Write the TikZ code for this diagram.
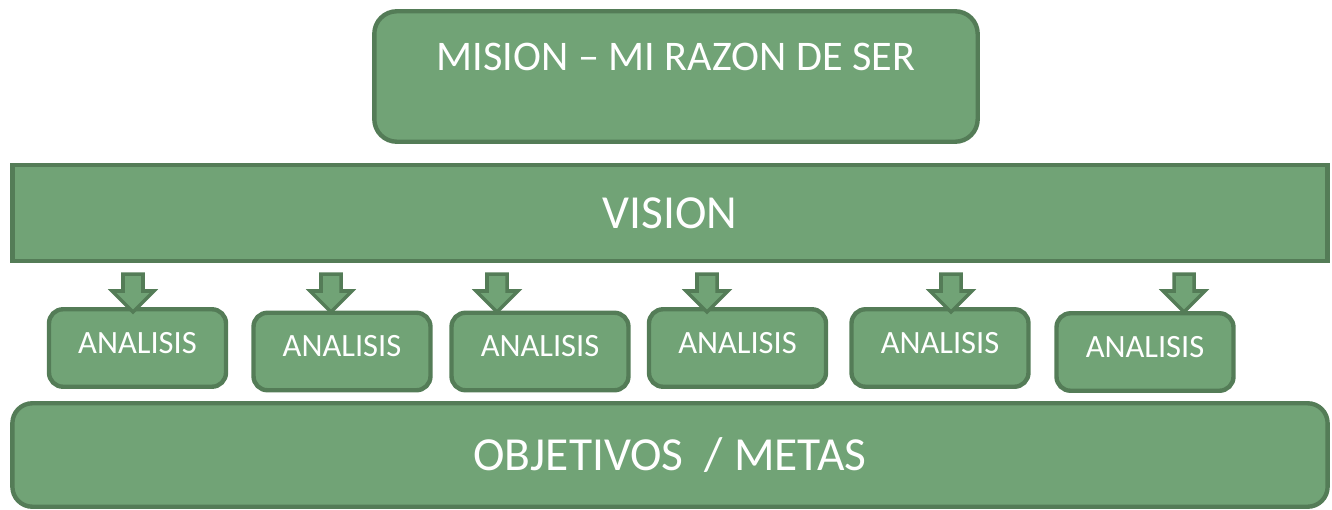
\documentclass[tikz,border=0pt]{standalone}
\usepackage{fontspec}
\setmainfont{Carlito}
\usetikzlibrary{shapes.arrows}
\definecolor{boxfill}{HTML}{71A376}
\definecolor{boxstr}{HTML}{547C57}
\tikzset{
  base/.style ={rectangle, draw=boxstr, fill=boxfill, line width=2.5pt,
                text=white, align=center, inner sep=0pt},
  mbox/.style ={base, rounded corners=0.45cm, minimum width=12.07cm,
                text height=1.175cm, text depth=1.435cm, font=\fontsize{24}{29}\selectfont},
  vbox/.style ={base, minimum width=26.31cm, minimum height=1.91cm,
                font=\fontsize{27}{32}\selectfont},
  obox/.style ={base, rounded corners=0.4cm, minimum width=26.31cm, minimum height=2.07cm,
                font=\fontsize{27}{32}\selectfont},
  abox/.style ={base, rounded corners=0.28cm, minimum width=3.54cm,
                text height=0.88cm, text depth=0.67cm, font=\fontsize{18.5}{22}\selectfont},
  darr/.style ={single arrow, draw=boxstr, fill=boxfill, line width=2pt, rotate=-90,
                minimum height=0.76cm, inner sep=0.165cm, single arrow head extend=0.22cm},
}
\begin{document}
\begin{tikzpicture}[x=0.02cm, y=-0.02cm]
    \useasboundingbox (0,0) rectangle (1332,510);
    \node[mbox] (mision) at (676,76.5) {MISION – MI RAZON DE SER};
    \node[vbox] (vision) at (670,213) {VISION};
    \node[obox] (metas) at (670,455) {OBJETIVOS\ \ / METAS};
    \foreach \n/\x/\y in {1/137.5/348, 2/342/351.5, 3/540/351.5,
                          4/737.5/348, 5/940/348, 6/1145/352}
      \node[abox] (an\n) at (\x,\y) {ANALISIS};
    \foreach \n/\x in {1/133, 2/331, 3/497, 4/707, 5/951, 6/1184}
      \node[darr] (ar\n) at (\x,288) {};
  \end{tikzpicture}
\end{document}
